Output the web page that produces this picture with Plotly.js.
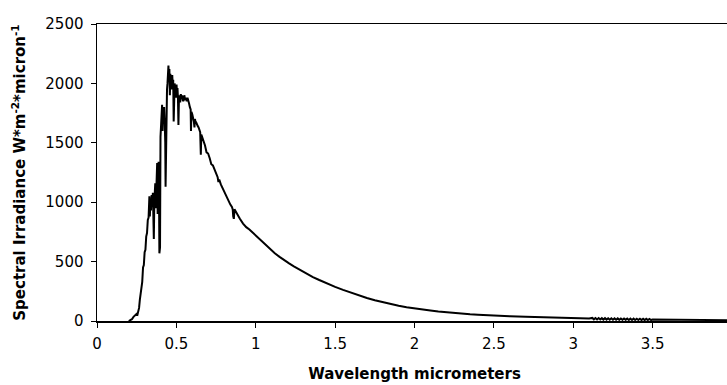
<!DOCTYPE html>
<html>
<head>
<meta charset="utf-8">
<script src="https://cdn.plot.ly/plotly-3.0.1.min.js"></script>
<style>
html, body { margin: 0; padding: 0; overflow: hidden; background: #fff; }
#chart { width: 740px; height: 385px; }
</style>
</head>
<body>
<div id="chart"></div>
<script>
// Wavelength in micrometers
const wavelength = [
  0.200, 0.210, 0.220, 0.230, 0.240, 0.250, 0.255, 0.260, 0.265, 0.270,
  0.275, 0.280, 0.285, 0.290, 0.295, 0.300, 0.305, 0.310, 0.315, 0.320,
  0.325, 0.330, 0.333, 0.336, 0.340, 0.344, 0.348, 0.352, 0.355, 0.358,
  0.361, 0.364, 0.367, 0.370, 0.373, 0.376, 0.379, 0.382, 0.385, 0.388,
  0.391, 0.393, 0.395, 0.397, 0.400, 0.403, 0.406, 0.410, 0.413, 0.416,
  0.420, 0.423, 0.427, 0.430, 0.432, 0.435, 0.438, 0.441, 0.444, 0.447,
  0.450, 0.453, 0.456, 0.459, 0.462, 0.465, 0.468, 0.471, 0.474, 0.477,
  0.480, 0.483, 0.486, 0.489, 0.492, 0.495, 0.498, 0.501, 0.504, 0.507,
  0.510, 0.513, 0.516, 0.520, 0.524, 0.528, 0.532, 0.536, 0.540, 0.545,
  0.550, 0.555, 0.560, 0.565, 0.570, 0.575, 0.580, 0.585, 0.590, 0.592,
  0.595, 0.600, 0.605, 0.610, 0.614, 0.617, 0.620, 0.625, 0.630, 0.635,
  0.640, 0.645, 0.650, 0.654, 0.657, 0.662, 0.670, 0.680, 0.690, 0.700,
  0.710, 0.720, 0.730, 0.740, 0.750, 0.760, 0.765, 0.770, 0.780, 0.790,
  0.800, 0.810, 0.820, 0.830, 0.840, 0.850, 0.855, 0.858, 0.862, 0.866,
  0.870, 0.880, 0.890, 0.900, 0.920, 0.940, 0.960, 0.980, 1.000, 1.030,
  1.060, 1.090, 1.120, 1.150, 1.180, 1.210, 1.240, 1.270, 1.300, 1.330,
  1.360, 1.400, 1.450, 1.500, 1.550, 1.600, 1.650, 1.700, 1.750, 1.800,
  1.850, 1.900, 1.950, 2.000, 2.050, 2.100, 2.150, 2.200, 2.250, 2.300,
  2.350, 2.400, 2.450, 2.500, 2.600, 2.700, 2.800, 2.900, 3.000, 3.100,
  3.120, 3.130, 3.140, 3.150, 3.160, 3.170, 3.180, 3.190, 3.200, 3.210,
  3.220, 3.230, 3.240, 3.250, 3.260, 3.270, 3.280, 3.290, 3.300, 3.310,
  3.320, 3.330, 3.340, 3.350, 3.360, 3.370, 3.380, 3.390, 3.400, 3.410,
  3.420, 3.430, 3.440, 3.450, 3.460, 3.470, 3.480, 3.490, 3.500,
  3.600, 3.700, 3.800, 3.900, 4.000
];

// Spectral irradiance, W*m^-2*micron^-1
const irradiance = [
  0, 5, 15, 35, 45, 60, 55, 90, 110, 180,
  230, 300, 330, 450, 470, 580, 600, 710, 740, 850,
  870, 1050, 880, 1000, 930, 1060, 980, 1080, 870, 690,
  1000, 1080, 1160, 950, 1200, 1280, 1330, 900, 1250, 1340,
  1000, 570, 900, 620, 1550, 1700, 1750, 1820, 1600, 1780,
  1700, 1800, 1650, 1500, 1130, 1700, 1900, 1950, 2000, 2100,
  2150, 2050, 2120, 1900, 2080, 2000, 2060, 1950, 2070, 1980,
  2030, 1680, 1950, 2000, 1900, 1950, 1880, 1990, 1920, 1960,
  1870, 1650, 1860, 1900, 1840, 1910, 1870, 1900, 1860, 1850,
  1900, 1860, 1880, 1850, 1880, 1840, 1830, 1800, 1780, 1600,
  1760, 1740, 1720, 1680, 1630, 1700, 1680, 1670, 1650, 1640,
  1630, 1610, 1590, 1400, 1570, 1550, 1520, 1480, 1420, 1410,
  1370, 1320, 1310, 1280, 1250, 1210, 1170, 1190, 1150, 1120,
  1090, 1060, 1030, 1000, 980, 960, 940, 880, 860, 940,
  930, 910, 880, 860, 820, 790, 770, 745, 720, 675,
  640, 600, 570, 540, 510, 485, 460, 437, 410, 390,
  370, 345, 315, 287, 262, 238, 215, 193, 175, 158,
  142, 128, 116, 105, 96, 88, 80, 73, 66, 60,
  56, 52, 48, 45, 40, 36, 32, 28, 25, 22,
  26, 14, 25, 13, 25, 13, 24, 12, 24, 12,
  23, 11, 23, 11, 22, 11, 22, 10, 21, 10,
  21, 10, 20, 9, 20, 9, 20, 9, 19, 9,
  19, 8, 18, 8, 18, 8, 17, 8, 12,
  11, 10, 9, 8, 7
];

const xTicks = [0, 0.5, 1, 1.5, 2, 2.5, 3, 3.5, 4];
const xTickText = ["0", "0.5", "1", "1.5", "2", "2.5", "3", "3.5", "4"];
const yTicks = [0, 500, 1000, 1500, 2000, 2500];
const yTickText = ["0", "500", "1000", "1500", "2000", "2500"];

const font = "DejaVu Sans, Liberation Sans, Arial, sans-serif";

const trace = {
  x: wavelength,
  y: irradiance,
  type: "scatter",
  mode: "lines",
  line: { color: "#000", width: 2 },
  hoverinfo: "skip"
};

const layout = {
  width: 740,
  height: 385,
  margin: { l: 97, r: 8, t: 24, b: 64 },
  paper_bgcolor: "#fff",
  plot_bgcolor: "#fff",
  showlegend: false,
  font: { family: font, color: "#000", size: 15 },
  xaxis: {
    range: [0, 4],
    tickvals: xTicks,
    ticktext: xTickText,
    ticks: "outside",
    ticklen: 5,
    tickwidth: 1,
    tickcolor: "#000",
    ticklabelstandoff: 3,
    showline: true,
    linecolor: "#000",
    linewidth: 1.5,
    mirror: true,
    showgrid: false,
    zeroline: false,
    tickfont: { family: font, size: 15, color: "#000" },
    title: {
      text: "Wavelength micrometers",
      font: { family: font, size: 15, color: "#000", weight: "bold" },
      standoff: 17
    },
    automargin: false
  },
  yaxis: {
    range: [0, 2500],
    tickvals: yTicks,
    ticktext: yTickText,
    ticks: "outside",
    ticklen: 5,
    tickwidth: 1,
    tickcolor: "#000",
    ticklabelstandoff: 4,
    showline: true,
    linecolor: "#000",
    linewidth: 1.5,
    mirror: false,
    showgrid: false,
    zeroline: false,
    tickfont: { family: font, size: 15, color: "#000" },
    title: {
      text: "Spectral Irradiance W*m<sup>-2</sup>*micron<sup>-1</sup>",
      font: { family: font, size: 15, color: "#000", weight: "bold" },
      standoff: 16
    },
    automargin: false
  }
};

Plotly.newPlot("chart", [trace], layout, { displayModeBar: false, staticPlot: true });
</script>
</body>
</html>
